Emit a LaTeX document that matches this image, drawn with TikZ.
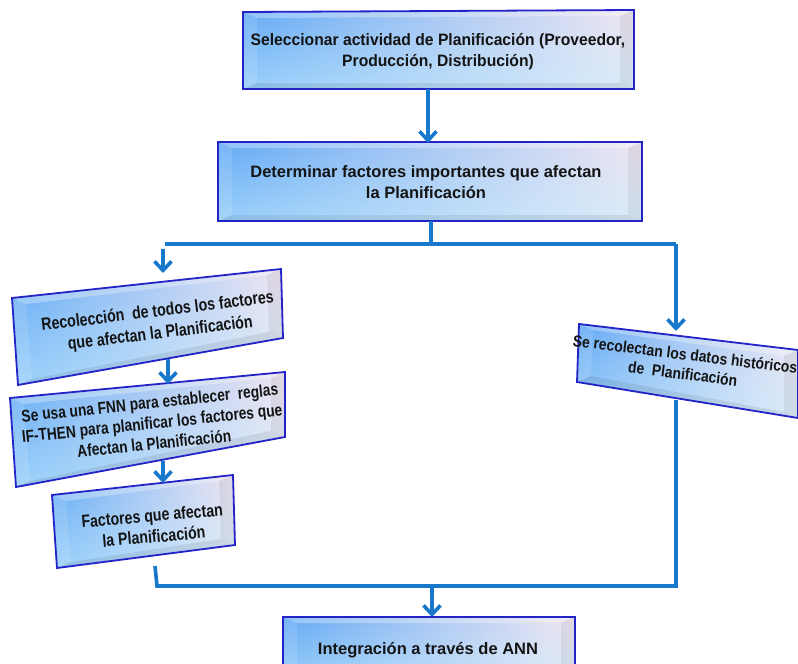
\documentclass[tikz,border=0pt]{standalone}
\usepackage{fontspec}
\setmainfont{Liberation Sans}
\newfontfamily\fontA{Liberation Sans}[FakeStretch=0.95]
\newfontfamily\fontB{Liberation Sans}[FakeStretch=0.81]
\newfontfamily\fontC{Liberation Sans}[FakeStretch=0.87]
\usetikzlibrary{arrows.meta,calc,fadings}

\definecolor{flow}{RGB}{24,120,204}
\definecolor{boxedge}{RGB}{35,35,200}
\definecolor{boxL}{RGB}{100,170,245}
\definecolor{boxR}{RGB}{240,230,242}
\definecolor{boxTop}{RGB}{200,240,255}

\tikzset{
  flowline/.style={draw=flow, line width=3.6pt},
  flowarrow/.style={flowline, -{Straight Barb[length=9pt,width=17pt]}},
  boxtext/.style={align=center, text=black!92, inner sep=0pt},
  edgeline/.style={draw=boxedge, line width=1.8pt, line join=miter},
}

% bevelled box from its four corners: name, top-left, top-right, bottom-right, bottom-left
\newcommand\bevbox[5]{%
  \coordinate (#1-tl) at #2; \coordinate (#1-tr) at #3;
  \coordinate (#1-br) at #4; \coordinate (#1-bl) at #5;
  \coordinate (#1-itl) at ($(#1-tl)+(14,6)$);
  \coordinate (#1-itr) at ($(#1-tr)+(-14,6)$);
  \coordinate (#1-ibr) at ($(#1-br)+(-14,-6)$);
  \coordinate (#1-ibl) at ($(#1-bl)+(14,-6)$);
  \shade[left color=boxL, right color=boxR]
    (#1-tl) -- (#1-tr) -- (#1-br) -- (#1-bl) -- cycle;
  \fill[boxTop, path fading=north, fill opacity=0.55]
    (#1-tl) -- (#1-tr) -- (#1-br) -- (#1-bl) -- cycle;
  \fill[white, fill opacity=0.30] (#1-tl) -- (#1-tr) -- (#1-itr) -- (#1-itl) -- cycle;
  \fill[white, fill opacity=0.12] (#1-tl) -- (#1-itl) -- (#1-ibl) -- (#1-bl) -- cycle;
  \fill[black, fill opacity=0.06] (#1-tr) -- (#1-br) -- (#1-ibr) -- (#1-itr) -- cycle;
  \fill[black, fill opacity=0.08] (#1-bl) -- (#1-ibl) -- (#1-ibr) -- (#1-br) -- cycle;
  \draw[edgeline] (#1-tl) -- (#1-tr) -- (#1-br) -- (#1-bl) -- cycle;
}

\begin{document}
\begin{tikzpicture}[x=1pt,y=-1pt]
  \clip (0,0) rectangle (798,664);
  \fill[white] (0,0) rectangle (798,664);

  % boxes
  \bevbox{b1}{(243,12)}{(634,10)}{(634,89)}{(243,89)}
  \bevbox{b2}{(218,142)}{(642,142)}{(642,221)}{(218,221)}
  \bevbox{b3}{(12,298)}{(281,269)}{(283,338)}{(18,385)}
  \bevbox{b4}{(10,398)}{(285,372)}{(285,437)}{(16,487)}
  \bevbox{b5}{(52,495)}{(233,475)}{(235,545)}{(57,568)}
  \bevbox{b6}{(579,324)}{(798,350)}{(798,418)}{(577,382)}
  \bevbox{b7}{(283,617)}{(575,617)}{(575,684)}{(283,684)}

  % texts
  \node[boxtext, font=\fontA\bfseries\fontsize{16.5}{21}\selectfont] (t1) at (438,52)
    {Seleccionar actividad de Planificación (Proveedor,\\Producción, Distribución)};
  \node[boxtext, font=\bfseries\fontsize{16.5}{20.5}\selectfont] (t2) at (426,182)
    {Determinar factores importantes que afectan\\la Planificación};
  \node[boxtext, font=\fontB\bfseries\fontsize{17.5}{22}\selectfont, rotate=7] (t3) at (159,323)
    {Recolección~ de todos los factores\\que afectan la Planificación};
  \node[boxtext, font=\fontB\bfseries\fontsize{17}{20.5}\selectfont, rotate=6] (t4) at (152,423)
    {Se usa una FNN para establecer~ reglas\\IF-THEN para planificar los factores que\\Afectan la Planificación};
  \node[boxtext, font=\fontB\bfseries\fontsize{17.5}{21}\selectfont, rotate=5] (t5) at (153,526)
    {Factores que afectan\\la Planificación};
  \node[boxtext, font=\fontC\bfseries\fontsize{16}{19.5}\selectfont, rotate=-7] (t6) at (684,364)
    {Se recolectan los datos históricos\\de~ Planificación};
  \node[boxtext, font=\bfseries\fontsize{16.5}{20}\selectfont] (t7) at (428,650)
    {Integración a través de ANN};

  % connector points
  \coordinate (b1-out) at (428,89);
  \coordinate (b2-in)  at (428,143);
  \coordinate (b2-out) at (431,221);
  \coordinate (split)  at (431,244);
  \coordinate (splitL) at (165,244);
  \coordinate (splitR) at (676,244);
  \coordinate (b6-in)  at (676,331);
  \coordinate (b3-top) at (163,249);
  \coordinate (b3-in)  at (163,273);
  \coordinate (b3-out) at (168,359);
  \coordinate (b4-in)  at (168,384);
  \coordinate (b4-out) at (163,461);
  \coordinate (b5-in)  at (163,483);
  \coordinate (b5-out) at (155,566);
  \coordinate (joinL)  at (157,586);
  \coordinate (joinR)  at (676,586);
  \coordinate (b6-out) at (676,400);
  \coordinate (join)   at (432,586);
  \coordinate (b7-in)  at (432,617);

  % connectors
  \draw[flowarrow] (b1-out) -- (b2-in);
  \draw[flowline] (b2-out) -- (split);
  \draw[flowline] (splitL) -- (splitR);
  \draw[flowarrow] (splitR) -- (b6-in);
  \draw[flowarrow] (b3-top) -- (b3-in);
  \draw[flowarrow] (b3-out) -- (b4-in);
  \draw[flowarrow] (b4-out) -- (b5-in);
  \draw[flowline] (b5-out) -- (joinL) -- (joinR) -- (b6-out);
  \draw[flowarrow] (join) -- (b7-in);
\end{tikzpicture}
\end{document}
